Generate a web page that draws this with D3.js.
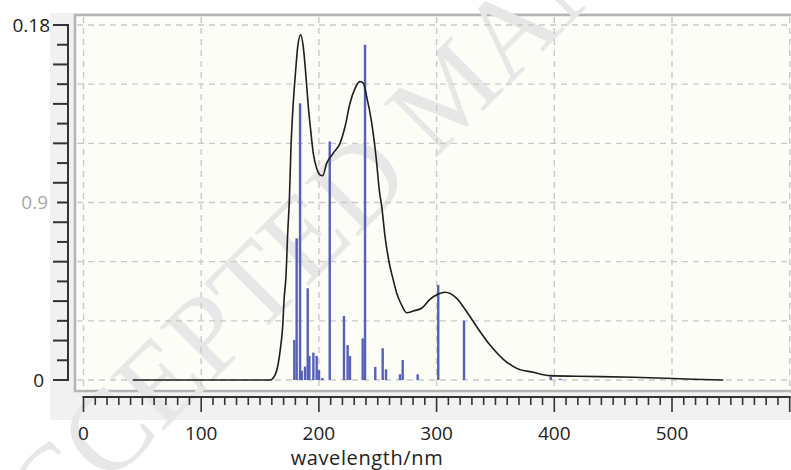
<!DOCTYPE html>
<html>
<head>
<meta charset="utf-8">
<script src="https://cdn.jsdelivr.net/npm/d3@7"></script>
<style>
  body { margin: 0; background: #fff; }
  svg { display: block; font-family: "Open Sans", "Noto Sans", sans-serif; }
</style>
</head>
<body>
<div id="viz"></div>
<script>
// simulated spectrum (wavelength nm, intensity)
var curveWave = [42, 158.5, 162.7, 165.5, 167.5, 169.2, 170.4, 172, 173.5, 174.9, 176.3, 178.2, 180.3, 182, 184.5,
  186.7, 188.8, 191, 193, 195.2, 198.1, 200.9, 203.2, 206.6, 212.2, 217.9, 222.2, 226.4, 230.7, 234.9, 237.7,
  240.6, 244.9, 249.1, 251.3, 253.4, 256.2, 259.8, 263.2, 266.1, 270.3, 274.6, 280.2, 287.3, 294.4, 301.4,
  307.1, 317.1, 325.6, 334.1, 345.4, 356.7, 368.1, 382.2, 396.3, 419, 467, 518, 543.6];
var curveVal = [0, 0, 0.0025, 0.0085, 0.0169, 0.027, 0.0406, 0.0524, 0.0745, 0.0913, 0.1183, 0.1403, 0.1572, 0.169, 0.175,
  0.169, 0.1555, 0.1386, 0.1268, 0.115, 0.1074, 0.104, 0.1036, 0.1099, 0.115, 0.12, 0.1284, 0.1403, 0.1479, 0.1513, 0.1505,
  0.1437, 0.1302, 0.11, 0.0963, 0.0879, 0.0727, 0.0592, 0.0507, 0.044, 0.038, 0.0341, 0.035, 0.0364, 0.0409, 0.0436,
  0.0445, 0.0414, 0.0346, 0.027, 0.0177, 0.0105, 0.0059, 0.0039, 0.0022, 0.0019, 0.0014, 0.0004, 0];

// transitions (stick spectrum)
var barWave = [179.1, 181.1, 184, 185.4, 188.2, 190.5, 191.9, 195.3, 198.1, 200.1, 202.9, 209.2, 221.3, 224.4, 226.4,
  237.2, 239.2, 247.9, 254.2, 257, 268.9, 271.2, 283.9, 301.4, 323.3, 397, 404.8];
var barVal = [0.0203, 0.0718, 0.1403, 0.0047, 0.0068, 0.0465, 0.0122, 0.0139, 0.0122, 0.005, 0.001, 0.1209, 0.0325, 0.0177, 0.0122,
  0.0211, 0.170, 0.0066, 0.0161, 0.0054, 0.0029, 0.0101, 0.0029, 0.0482, 0.0301, 0.0017, 0.0006];

var xTickLabels = [0, 100, 200, 300, 400, 500];
var yTickLabels = ["0", "0.9", "0.18"];   // as printed in the original
var yTickPos = [0, 0.09, 0.18];

var W = 791, H = 470;
var svg = d3.select("#viz").append("svg").attr("width", W).attr("height", H);

var x = d3.scaleLinear().domain([0, 100]).range([83.5, 201.2]);
var y = d3.scaleLinear().domain([0, 0.18]).range([380, 25]);

//backgrounds
svg.append("rect").attr("x", 50).attr("y", 13).attr("width", W - 50).attr("height", 407).attr("fill", "#f1f1f1");
svg.append("rect").attr("x", 75).attr("y", 15).attr("width", 730).attr("height", 376)
  .attr("fill", "#fdfdf8").attr("stroke", "#b4b4b4").attr("stroke-width", 2.5);

//watermark
svg.append("text")
  .attr("transform", "translate(-6,600) rotate(-45)")
  .attr("font-family", "Liberation Serif, DejaVu Serif, serif")
  .attr("font-size", 115)
  .attr("fill", "#e7e7e7")
  .text("ACCEPTED MANUSCRIPT");

//grid
var grid = svg.append("g").attr("stroke", "#c9c9c9").attr("stroke-width", 1.4).attr("stroke-dasharray", "6,5");
grid.selectAll("line.v").data(d3.range(0, 601, 100)).enter().append("line")
  .attr("x1", function(d) { return x(d); }).attr("x2", function(d) { return x(d); })
  .attr("y1", 17).attr("y2", 389);
grid.selectAll("line.h").data(d3.range(0, 7)).enter().append("line")
  .attr("x1", 77).attr("x2", W)
  .attr("y1", function(d) { return y(d * 0.03); }).attr("y2", function(d) { return y(d * 0.03); });

//sticks
svg.append("g").selectAll("line").data(barWave).enter().append("line")
  .attr("x1", function(d) { return x(d); }).attr("x2", function(d) { return x(d); })
  .attr("y1", y(0)).attr("y2", function(d, i) { return y(barVal[i]); })
  .attr("stroke", "#5560b8").attr("stroke-width", 2.4);

//spectrum curve
var line = d3.line()
  .x(function(d, i) { return x(curveWave[i]); })
  .y(function(d) { return y(d); })
  .curve(d3.curveMonotoneX);
svg.append("path").datum(curveVal).attr("d", line)
  .attr("fill", "none").attr("stroke", "#1e1e1e").attr("stroke-width", 1.6);

//y axis
var yAxisG = svg.append("g");
yAxisG.append("line").attr("x1", 68).attr("x2", 68).attr("y1", y(0.18) - 1).attr("y2", y(0) + 1)
  .attr("stroke", "#333").attr("stroke-width", 2);
yAxisG.selectAll("line.t").data(d3.range(0, 19)).enter().append("line")
  .attr("x1", function(d) { return d % 2 == 0 ? 53 : 57; }).attr("x2", 68)
  .attr("y1", function(d) { return y(d * 0.01); }).attr("y2", function(d) { return y(d * 0.01); })
  .attr("stroke", "#333").attr("stroke-width", 2);
yAxisG.selectAll("text").data(yTickPos).enter().append("text")
  .attr("x", function(d, i) { return [44, 48, 50][i]; })
  .attr("y", function(d) { return y(d); })
  .attr("dy", "0.35em")
  .attr("text-anchor", "end")
  .attr("font-size", 19)
  .attr("fill", function(d, i) { return i == 1 ? "#a8a8a8" : "#222"; })
  .text(function(d, i) { return yTickLabels[i]; });

//x axis
var xAxisG = svg.append("g");
xAxisG.append("line").attr("x1", x(0) - 1).attr("x2", x(600) + 1).attr("y1", 397).attr("y2", 397)
  .attr("stroke", "#333").attr("stroke-width", 2);
xAxisG.selectAll("line.t").data(d3.range(0, 601, 10)).enter().append("line")
  .attr("x1", function(d) { return x(d); }).attr("x2", function(d) { return x(d); })
  .attr("y1", 397).attr("y2", function(d) { return d % 100 == 0 ? 412 : 405; })
  .attr("stroke", "#333").attr("stroke-width", 1.6);
xAxisG.selectAll("text").data(xTickLabels).enter().append("text")
  .attr("x", function(d) { return x(d); })
  .attr("y", 440)
  .attr("text-anchor", "middle")
  .attr("font-size", 19)
  .attr("fill", "#222")
  .text(function(d) { return d; });

svg.append("text").attr("x", 367).attr("y", 465).attr("text-anchor", "middle")
  .attr("font-size", 20).attr("letter-spacing", 0.6).attr("fill", "#222").text("wavelength/nm");
</script>
</body>
</html>
